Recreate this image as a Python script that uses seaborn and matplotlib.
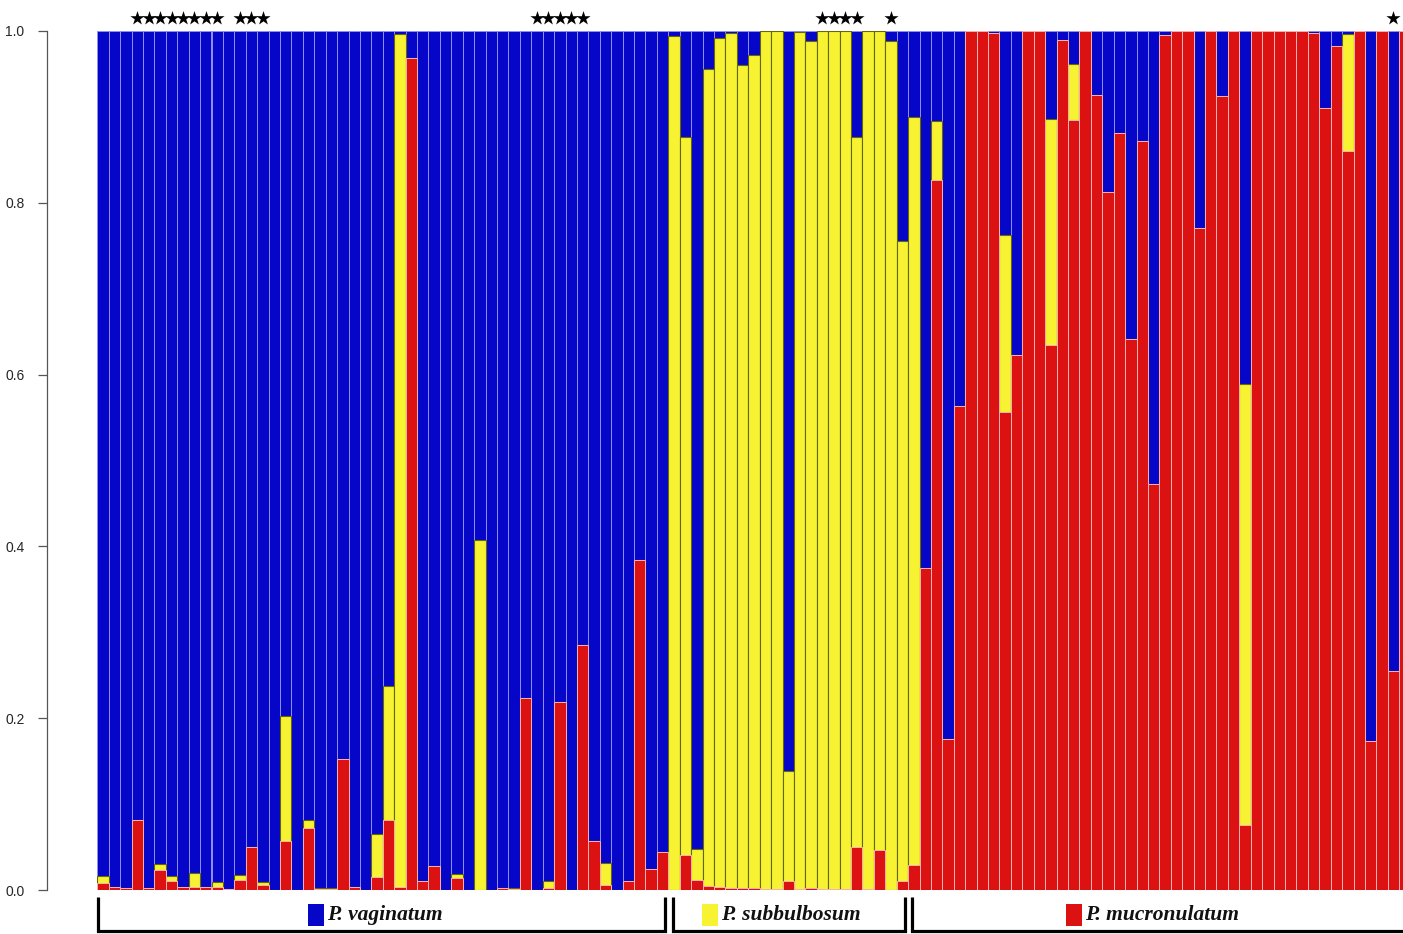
import numpy as np
import pandas as pd
import matplotlib
matplotlib.use("Agg")
import matplotlib.pyplot as plt
import matplotlib.transforms as mtransforms
from matplotlib.patches import Rectangle
import seaborn as sns

# ----------------------------
# Data: ancestry proportions (K = 3) per sample
# ----------------------------

red_part = [
    0.008, 0.003, 0.002, 0.081, 0.002, 0.023, 0.010, 0.003, 0.003, 0.003,
    0.004, 0.001, 0.012, 0.050, 0.006, 0.000, 0.057, 0.000, 0.072, 0.001,
    0.001, 0.152, 0.004, 0.000, 0.015, 0.082, 0.003, 0.968, 0.010, 0.028,
    0.000, 0.014, 0.000, 0.000, 0.000, 0.002, 0.001, 0.224, 0.000, 0.002,
    0.219, 0.000, 0.285, 0.057, 0.006, 0.000, 0.011, 0.384, 0.024, 0.044,
    0.000, 0.041, 0.012, 0.005, 0.003, 0.002, 0.002, 0.002, 0.001, 0.001,
    0.010, 0.001, 0.002, 0.001, 0.001, 0.001, 0.050, 0.001, 0.046, 0.000,
    0.010, 0.029, 0.375, 0.827, 0.176, 0.563, 1.000, 1.000, 0.998, 0.556,
    0.623, 1.000, 1.000, 0.635, 0.990, 0.896, 1.000, 0.925, 0.813, 0.881,
    0.641, 0.872, 0.473, 0.995, 1.000, 1.000, 0.771, 1.000, 0.924, 1.000,
    0.076, 1.000, 1.000, 1.000, 1.000, 1.000, 0.998, 0.910, 0.983, 0.860,
    1.000, 0.174, 1.000, 0.255, 1.000,
]

yellow_part = [
    0.008, 0.000, 0.000, 0.000, 0.000, 0.007, 0.006, 0.000, 0.017, 0.000,
    0.005, 0.000, 0.006, 0.000, 0.003, 0.000, 0.145, 0.000, 0.009, 0.001,
    0.001, 0.000, 0.000, 0.000, 0.050, 0.156, 0.994, 0.000, 0.000, 0.000,
    0.000, 0.005, 0.000, 0.408, 0.000, 0.000, 0.001, 0.000, 0.000, 0.008,
    0.000, 0.000, 0.000, 0.000, 0.025, 0.000, 0.000, 0.000, 0.000, 0.000,
    0.994, 0.836, 0.036, 0.951, 0.989, 0.996, 0.958, 0.970, 0.999, 0.999,
    0.128, 0.998, 0.986, 0.999, 0.999, 0.999, 0.827, 0.999, 0.954, 0.988,
    0.745, 0.871, 0.000, 0.068, 0.000, 0.000, 0.000, 0.000, 0.000, 0.207,
    0.000, 0.000, 0.000, 0.263, 0.000, 0.066, 0.000, 0.000, 0.000, 0.000,
    0.000, 0.000, 0.000, 0.000, 0.000, 0.000, 0.000, 0.000, 0.000, 0.000,
    0.513, 0.000, 0.000, 0.000, 0.000, 0.000, 0.000, 0.000, 0.000, 0.137,
    0.000, 0.000, 0.000, 0.000, 0.000,
]

group_names = ["P. vaginatum", "P. subbulbosum", "P. mucronulatum"]
group_sizes = [50, 21, 44]
starred_samples = [3, 4, 5, 6, 7, 8, 9, 10, 12, 13, 14,
                   38, 39, 40, 41, 42, 63, 64, 65, 66, 69, 113]
y_ticks = [0.0, 0.2, 0.4, 0.6, 0.8, 1.0]

BLUE = "#0606c8"
YELLOW = "#f7f333"
RED = "#dc1212"
group_colors = [BLUE, YELLOW, RED]

df = pd.DataFrame({"red": red_part, "yellow": yellow_part})
df["sample"] = np.arange(len(df))
df["red_yellow"] = df["red"] + df["yellow"]
df["total"] = 1.0

# ----------------------------
# Figure
# ----------------------------

sns.set_style("white")
plt.rcParams["font.family"] = ["Liberation Sans", "DejaVu Sans"]

fig = plt.figure(figsize=(14.03, 9.34), dpi=100)
ax = fig.add_axes([97.3 / 1403, 44 / 934, 1 - 97.3 / 1403, 859 / 934])

# stacked bars drawn as layered cumulative bars
sns.barplot(data=df, x="sample", y="total", color=BLUE, width=1,
            saturation=1, edgecolor="#8e8ef4", linewidth=0.7,
            errorbar=None, ax=ax)
sns.barplot(data=df, x="sample", y="red_yellow", color=YELLOW, width=1,
            saturation=1, edgecolor="#66660a", linewidth=0.8,
            errorbar=None, ax=ax)
sns.barplot(data=df, x="sample", y="red", color=RED, width=1,
            saturation=1, edgecolor="#f4b4b4", linewidth=0.7,
            errorbar=None, ax=ax)

# stars above marked samples
ax.scatter(starred_samples, [1.015] * len(starred_samples), marker="*",
           s=115, color="black", clip_on=False, zorder=5, linewidths=0)

pitch = 11.42
ax.set_xlim(-0.5, -0.5 + (1403 - 97.3) / pitch)
ax.set_ylim(0, 1)
ax.set_xlabel("")
ax.set_ylabel("")
ax.set_xticks([])
ax.set_yticks(y_ticks)
ax.set_yticklabels([f"{t:.1f}" for t in y_ticks], rotation=90, va="center",
                   fontsize=13.5, color="#4a4a4a")
ax.tick_params(axis="y", length=6.5, width=0.9, color="#555555", pad=10,
               left=True)

for side in ["top", "right", "bottom"]:
    ax.spines[side].set_visible(False)
ax.spines["left"].set_position(("outward", 36))
ax.spines["left"].set_color("#555555")
ax.spines["left"].set_linewidth(0.9)

# ----------------------------
# Group brackets and labels
# ----------------------------

blend = mtransforms.blended_transform_factory(ax.transData, ax.transAxes)
y_top, y_bot, y_txt = -0.008, -0.0475, -0.029

texts = []
start = -0.5
for i, (name, size) in enumerate(zip(group_names, group_sizes)):
    end = start + size
    x0 = start + (0.06 if i == 0 else 0.38)
    x1 = end - 0.3 if i < len(group_sizes) - 1 else end + 2
    ax.plot([x0, x0, x1, x1], [y_top, y_bot, y_bot, y_top], color="black",
            lw=2.3, transform=blend, clip_on=False,
            solid_joinstyle="miter", solid_capstyle="butt")
    t = ax.text(0, y_txt, name, transform=blend, ha="left", va="center",
                family="Liberation Serif", weight="bold", style="italic",
                fontsize=15.5, color="#111111")
    texts.append((t, (start + end) / 2))
    start = end

fig.canvas.draw()
renderer = fig.canvas.get_renderer()
to_fig = fig.transFigure.inverted()
for (t, center), color in zip(texts, group_colors):
    bb = t.get_window_extent(renderer)
    cx = ax.transData.transform((center, 0))[0]
    sq_w, sq_h, gap = 16, 22, 3
    total = sq_w + gap + bb.width
    left = cx - 7 - total / 2
    tx = ax.transData.inverted().transform((left + sq_w + gap, 0))[0]
    t.set_x(tx)
    yc = ax.transAxes.transform((0, y_txt))[1]
    (fx, fy) = to_fig.transform((left, yc - sq_h / 2))
    (fx2, fy2) = to_fig.transform((left + sq_w, yc + sq_h / 2))
    fig.add_artist(Rectangle((fx, fy), fx2 - fx, fy2 - fy,
                             transform=fig.transFigure, facecolor=color,
                             edgecolor="none"))

fig.savefig("out.png", dpi=100)
plt.close()
